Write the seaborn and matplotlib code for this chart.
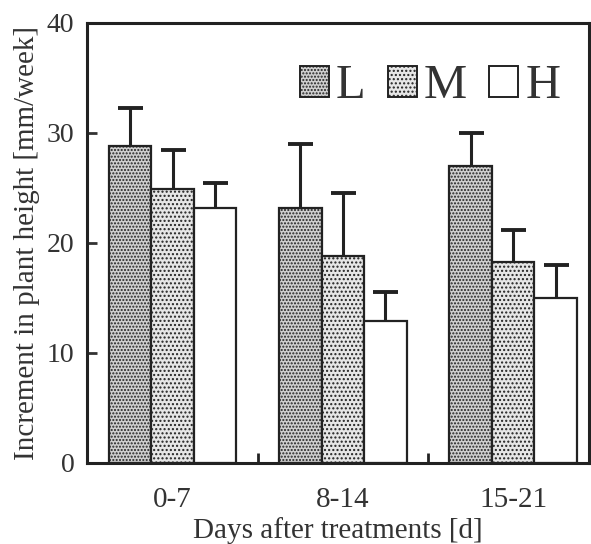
import matplotlib
matplotlib.use("Agg")
import matplotlib.pyplot as plt
from matplotlib.patches import Patch
import seaborn as sns
import pandas as pd
import numpy as np

periods = ["0-7", "8-14", "15-21"]
treatments = ["L", "M", "H"]
mean_L = [28.8, 23.2, 27.0]
mean_M = [24.9, 18.8, 18.3]
mean_H = [23.2, 12.9, 15.0]
sd_L = [3.5, 5.8, 3.0]
sd_M = [3.5, 5.7, 2.9]
sd_H = [2.2, 2.6, 3.0]

sns.set_theme(style="white")
plt.rcParams["font.family"] = ["Liberation Serif", "DejaVu Serif"]
plt.rcParams["hatch.linewidth"] = 1.0

rows = []
for t, means, sds in zip(treatments, [mean_L, mean_M, mean_H], [sd_L, sd_M, sd_H]):
    for p, m, s in zip(periods, means, sds):
        rows.append({"period": p, "treat": t, "value": m, "sd": s})
df = pd.DataFrame(rows)

styles = {
    "L": dict(facecolor="#cfcfcf", hatch="....."),
    "M": dict(facecolor="#e6e6e6", hatch="...."),
    "H": dict(facecolor="white", hatch=None),
}

fig = plt.figure(figsize=(5.91, 5.44), dpi=100)
ax = fig.add_axes([0.147, 0.149, 0.850, 0.809])

sns.barplot(data=df, x="period", y="value", hue="treat", order=periods,
            hue_order=treatments, width=0.75, gap=0, errorbar=None,
            legend=False, ax=ax, palette=["white"] * 3, saturation=1)

bar_patches = [p for p in ax.patches]
for p in bar_patches:
    p.set_zorder(2)
    cx = p.get_x() + p.get_width() / 2
    gi = int(round(cx))
    hi = int(round((cx - gi) / 0.25)) + 1
    t = treatments[hi]
    st = styles[t]
    p.set_facecolor(st["facecolor"])
    p.set_edgecolor("#222222")
    p.set_linewidth(1.6)
    if st["hatch"]:
        p.set_hatch(st["hatch"])
    row = df[(df.period == periods[gi]) & (df.treat == t)].iloc[0]
    h = p.get_height()
    eb = ax.errorbar(cx, h, yerr=[[0], [row.sd]], fmt="none",
                     ecolor="#222222", elinewidth=2.2, capsize=9, capthick=2.8,
                     zorder=1)
    for cl in eb[1]:
        if abs(cl.get_ydata()[0] - h) < 1e-9:
            cl.set_visible(False)

ax.set_ylim(0, 40)
ax.set_xlim(-0.503, 2.447)
ax.set_yticks([0, 10, 20, 30, 40])
ax.set_yticklabels(["0", "10", "20", "30", "40"])
ax.set_xticks([0, 1, 2])
ax.set_xticklabels(periods)
ax.set_xticks([0.5, 1.5], minor=True)
ax.tick_params(axis="x", which="major", length=0, labelsize=21, colors="#333333", pad=17)
ax.tick_params(axis="x", which="minor", length=7, width=2, direction="in", color="#222222", bottom=True)
ax.tick_params(axis="y", which="major", length=7, width=2, direction="in", labelsize=20,
               colors="#333333", pad=9, left=True)
for s in ax.spines.values():
    s.set_color("#222222")
    s.set_linewidth(2.2)

ax.set_xlabel("Days after treatments [d]", fontsize=21, color="#333333", labelpad=3)
ax.set_ylabel("Increment in plant height [mm/week]", fontsize=21, color="#333333", labelpad=5)

handles = [Patch(facecolor=styles[t]["facecolor"], edgecolor="#222222",
                 hatch=styles[t]["hatch"], linewidth=1.4, label=t) for t in treatments]
ax.legend(handles=handles, loc="upper right", bbox_to_anchor=(1.03, 1.005), ncol=3,
          frameon=False, fontsize=35, handlelength=0.6, handleheight=0.6,
          handletextpad=0.15, columnspacing=0.45, labelcolor="#333333")

fig.savefig("out.png", dpi=100, facecolor="white")
